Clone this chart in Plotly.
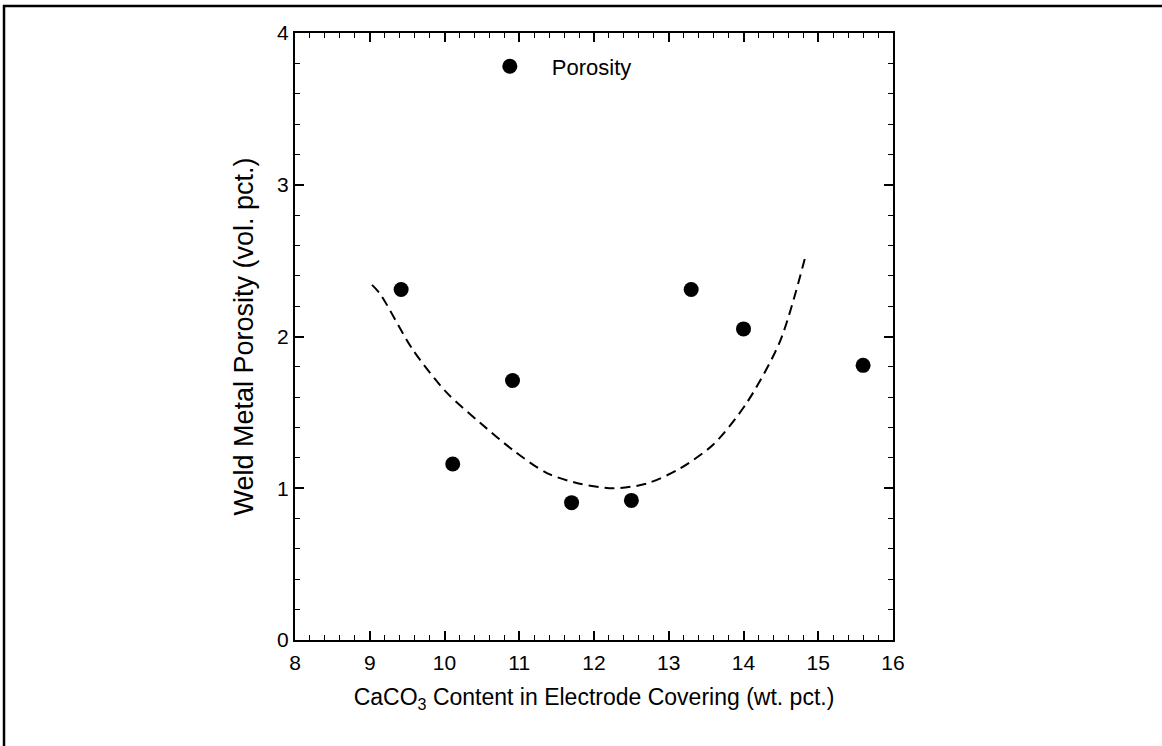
import plotly.graph_objects as go

caco3 = [9.42, 10.11, 10.91, 11.70, 12.50, 13.30, 14.00, 15.60]
porosity = [2.31, 1.16, 1.71, 0.905, 0.92, 2.31, 2.05, 1.81]

# Dashed trend curve
curve_x = [9.03, 9.14, 9.58, 10.03, 10.48, 10.92, 11.37, 11.81, 12.26, 12.70, 13.15, 13.60, 14.04, 14.49, 14.84]
curve_y = [2.34, 2.28, 1.91, 1.63, 1.43, 1.25, 1.10, 1.03, 1.00, 1.03, 1.13, 1.29, 1.56, 1.97, 2.55]

x_ticks = [8, 9, 10, 11, 12, 13, 14, 15, 16]
y_ticks = [0, 1, 2, 3, 4]

FONT = "Liberation Sans, Arial, sans-serif"

fig = go.Figure()
fig.add_trace(go.Scatter(
    x=curve_x, y=curve_y, mode="lines",
    line=dict(color="black", width=2, dash="10px,6px", shape="spline", smoothing=0.8),
    showlegend=False, hoverinfo="skip",
))
fig.add_trace(go.Scatter(
    x=caco3, y=porosity, mode="markers", name="Porosity",
    marker=dict(color="black", size=15, line=dict(width=0)),
))

axis_common = dict(
    showgrid=False, zeroline=False, showline=True, linecolor="black", linewidth=2,
    mirror="allticks", ticks="inside", ticklen=9, tickwidth=1.5, tickcolor="black",
    tickfont=dict(family=FONT, size=21, color="black"),
)

fig.update_xaxes(
    range=[8, 16], tickvals=x_ticks, ticktext=[str(v) for v in x_ticks],
    minor=dict(dtick=0.2, ticks="inside", ticklen=5, tickwidth=1.2, tickcolor="black", showgrid=False),
    ticklabelstandoff=3,
    title=dict(text="CaCO<sub>3</sub> Content in Electrode Covering (wt. pct.)",
               font=dict(family=FONT, size=23, color="black"), standoff=16),
    **axis_common,
)
fig.update_yaxes(
    range=[0, 4], tickvals=y_ticks, ticktext=[str(v) for v in y_ticks],
    minor=dict(dtick=0.2, ticks="inside", ticklen=5, tickwidth=1.2, tickcolor="black", showgrid=False),
    title=dict(text="Weld Metal Porosity (vol. pct.)",
               font=dict(family=FONT, size=27, color="black"), standoff=16),
    **axis_common,
)

# outer frame of the scanned figure (left and top edges)
fig.add_shape(type="rect", xref="paper", yref="paper",
              x0=-0.4866, x1=1.48, y0=-0.3, y1=1.0445,
              line=dict(color="black", width=2.5), layer="above")

fig.update_layout(
    width=1162, height=746,
    margin=dict(l=295, r=269, t=33, b=106),
    paper_bgcolor="white", plot_bgcolor="white",
    font=dict(family=FONT, size=21, color="black"),
    legend=dict(x=0.289, y=0.945, xanchor="left", yanchor="middle", itemwidth=74,
                bgcolor="rgba(0,0,0,0)", borderwidth=0,
                font=dict(family=FONT, size=22, color="black")),
)

fig.write_html("out.html", config={"displayModeBar": False},
               post_script="document.body.style.margin='0';document.body.style.overflow='hidden';")
